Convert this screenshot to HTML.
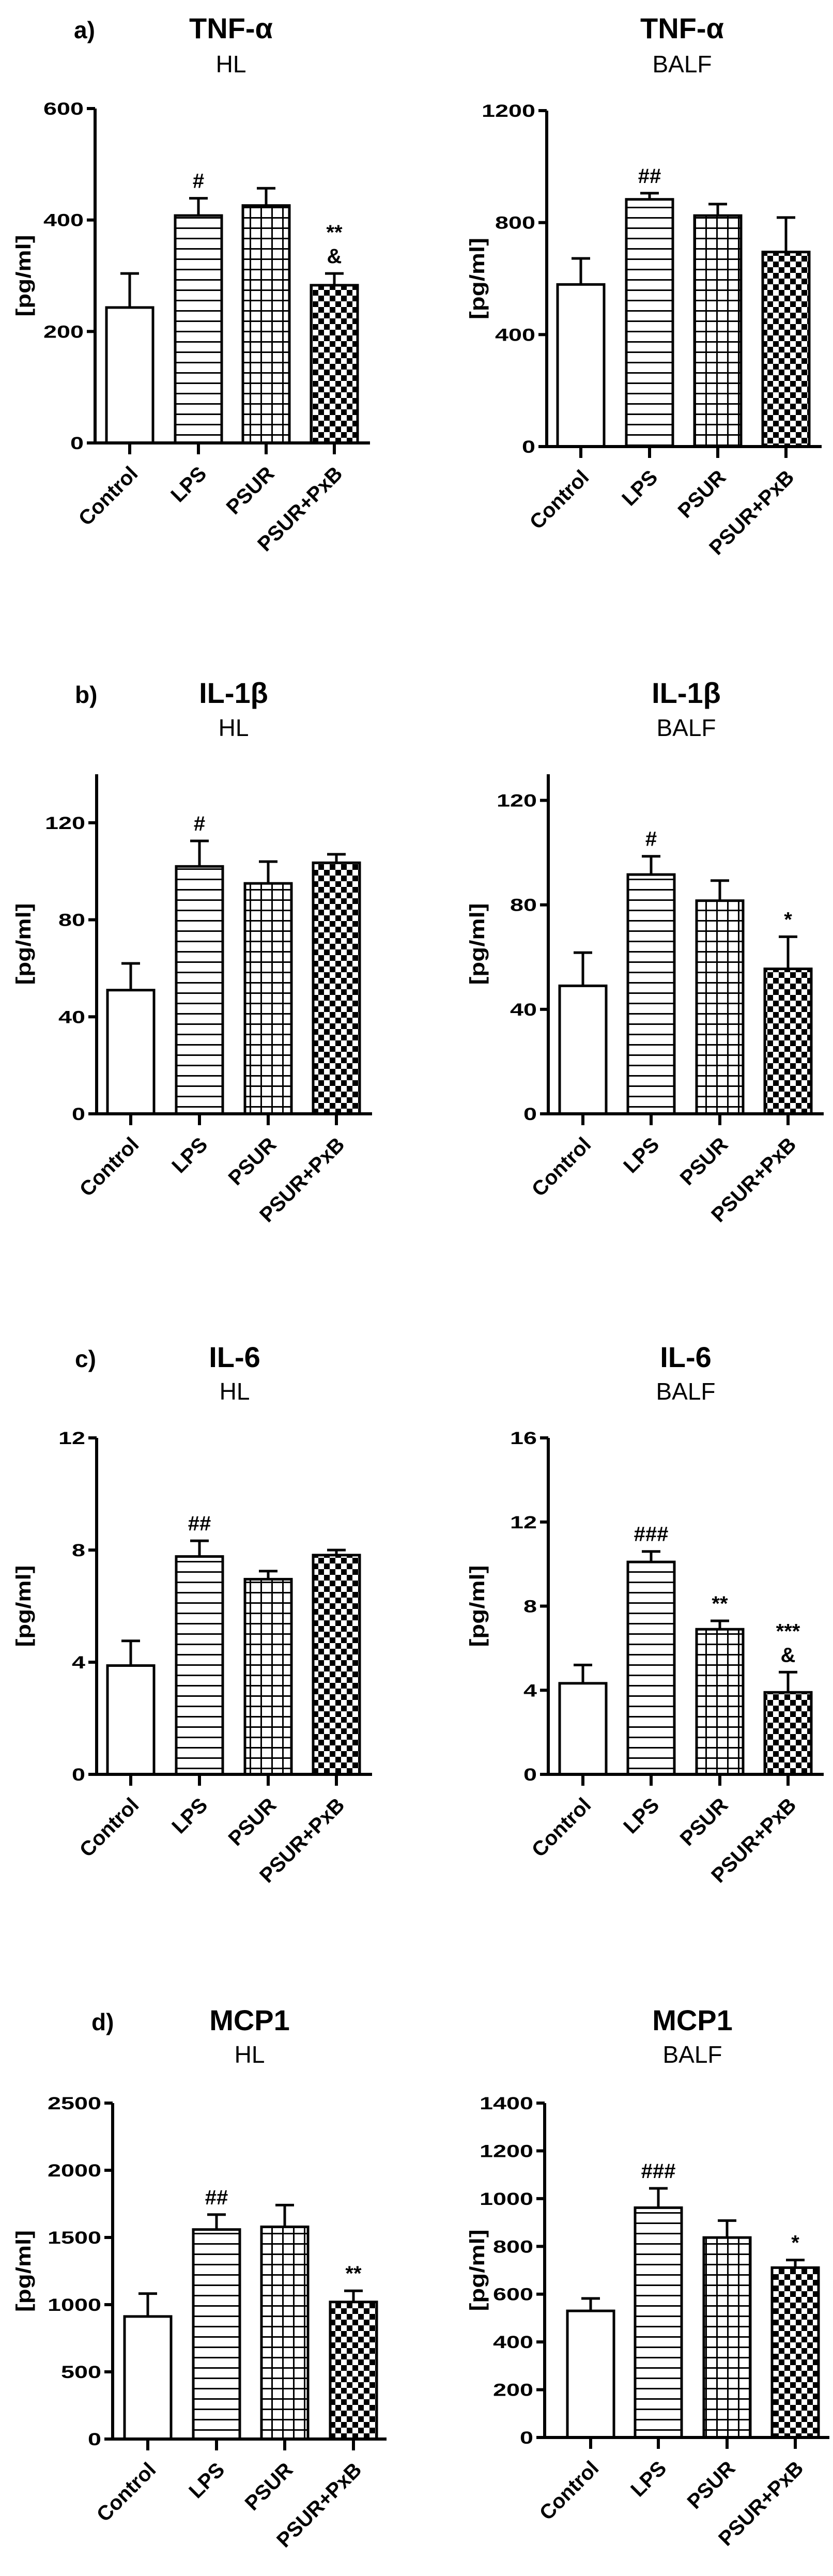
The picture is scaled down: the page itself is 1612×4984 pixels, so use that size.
<!DOCTYPE html>
<html><head><meta charset="utf-8"><style>
html,body{margin:0;padding:0;background:#fff;}
svg{display:block;font-family:"Liberation Sans",Arial,sans-serif;}
</style></head><body>
<svg id="fig" xmlns="http://www.w3.org/2000/svg" width="1612" height="4984" viewBox="0 0 1612 4984">
<defs>
<pattern id="pat-h" patternUnits="userSpaceOnUse" width="10" height="20"><rect x="0" y="0" width="10" height="3" fill="#000"/></pattern>
<pattern id="pat-grid" patternUnits="userSpaceOnUse" width="21" height="20"><rect x="0" y="0" width="21" height="3" fill="#000"/><rect x="0" y="0" width="3" height="20" fill="#000"/></pattern>
<pattern id="pat-check" patternUnits="userSpaceOnUse" width="22" height="22"><rect x="0" y="0" width="11" height="11" fill="#000"/><rect x="11" y="11" width="11" height="11" fill="#000"/></pattern>
</defs>
<rect width="1612" height="4984" fill="#fff"/>
</svg>
<script>
const categories = ["Control","LPS","PSUR","PSUR+PxB"];

const tnfHLValues = [243,408,426,283];
const tnfHLSem = [61,31,31,21];
const tnfHLTicks = [0,200,400,600];
const tnfHLMarks = [[],["#"],[],["&","**"]];

const tnfBALFValues = [579,883,825,695];
const tnfBALFSem = [93,22,41,123];
const tnfBALFTicks = [0,400,800,1200];
const tnfBALFMarks = [[],["##"],[],[]];

const il1HLValues = [51,102,95,103.5];
const il1HLSem = [11,10.5,9,3.5];
const il1HLTicks = [0,40,80,120];
const il1HLMarks = [[],["#"],[],[]];

const il1BALFValues = [49,91.6,81.6,55.5];
const il1BALFSem = [12.7,7,7.7,12.3];
const il1BALFTicks = [0,40,80,120];
const il1BALFMarks = [[],["#"],[],["*"]];

const il6HLValues = [3.88,7.77,6.96,7.82];
const il6HLSem = [0.88,0.56,0.29,0.18];
const il6HLTicks = [0,4,8,12];
const il6HLMarks = [[],["##"],[],[]];

const il6BALFValues = [4.33,10.1,6.9,3.9];
const il6BALFSem = [0.87,0.5,0.4,0.96];
const il6BALFTicks = [0,4,8,12,16];
const il6BALFMarks = [[],["###"],["**"],["&","***"]];

const mcpHLValues = [912,1559,1579,1020];
const mcpHLSem = [170,111,162,83];
const mcpHLTicks = [0,500,1000,1500,2000,2500];
const mcpHLMarks = [[],["##"],[],["**"]];

const mcpBALFValues = [530,962,837,711];
const mcpBALFSem = [52,81,71,32];
const mcpBALFTicks = [0,200,400,600,800,1000,1200,1400];
const mcpBALFMarks = [[],["###"],[],["*"]];

const NS = "http://www.w3.org/2000/svg";
const svg = document.getElementById("fig");
const fills = ["#fff","url(#pat-h)","url(#pat-grid)","url(#pat-check)"];

function mk(tag, attrs, parent){
  const e = document.createElementNS(NS, tag);
  for (const k in attrs) e.setAttribute(k, attrs[k]);
  (parent||svg).appendChild(e);
  return e;
}

const panels = [
 {id:"tnf-hl", name:"TNF-\u03b1", sub:"HL", letter:"a)", values:tnfHLValues, sem:tnfHLSem, ticks:tnfHLTicks, marks:tnfHLMarks, max:600, ax:184, end:716, zero:857, top:210, centers:[251,384,515,647], tx:447, ty:74, sy:140, lx:143, ylx:46},
 {id:"tnf-balf", name:"TNF-\u03b1", sub:"BALF", letter:"", values:tnfBALFValues, sem:tnfBALFSem, ticks:tnfBALFTicks, marks:tnfBALFMarks, max:1200, ax:1058, end:1590, zero:864, top:214, centers:[1124,1257,1389,1521], tx:1320, ty:74, sy:140, ylx:924},
 {id:"il1-hl", name:"IL-1\u03b2", sub:"HL", letter:"b)", values:il1HLValues, sem:il1HLSem, ticks:il1HLTicks, marks:il1HLMarks, max:140, ax:187, end:720, zero:2155, top:1498, centers:[253,386,519,651], tx:452, ty:1360, sy:1424, lx:145, ylx:46},
 {id:"il1-balf", name:"IL-1\u03b2", sub:"BALF", letter:"", values:il1BALFValues, sem:il1BALFSem, ticks:il1BALFTicks, marks:il1BALFMarks, max:130, ax:1061, end:1594, zero:2155, top:1498, centers:[1128,1260,1393,1525], tx:1328, ty:1360, sy:1424, ylx:924},
 {id:"il6-hl", name:"IL-6", sub:"HL", letter:"c)", values:il6HLValues, sem:il6HLSem, ticks:il6HLTicks, marks:il6HLMarks, max:12, ax:187, end:720, zero:3433, top:2782, centers:[253,386,519,651], tx:454, ty:2645, sy:2708, lx:145, ylx:46},
 {id:"il6-balf", name:"IL-6", sub:"BALF", letter:"", values:il6BALFValues, sem:il6BALFSem, ticks:il6BALFTicks, marks:il6BALFMarks, max:16, ax:1061, end:1594, zero:3433, top:2782, centers:[1128,1260,1393,1525], tx:1327, ty:2645, sy:2708, ylx:924},
 {id:"mcp1-hl", name:"MCP1", sub:"HL", letter:"d)", values:mcpHLValues, sem:mcpHLSem, ticks:mcpHLTicks, marks:mcpHLMarks, max:2500, ax:218, end:748, zero:4719, top:4069, centers:[286,419,551,684], tx:483, ty:3928, sy:3991, lx:177, ylx:46},
 {id:"mcp1-balf", name:"MCP1", sub:"BALF", letter:"", values:mcpBALFValues, sem:mcpBALFSem, ticks:mcpBALFTicks, marks:mcpBALFMarks, max:1400, ax:1054, end:1605, zero:4716, top:4069, centers:[1143,1274,1407,1539], tx:1340, ty:3928, sy:3991, ylx:924}
];

panels.forEach(p => {
  const g = mk("g", {});
  
  
  const y = v => p.zero - (v / p.max) * (p.zero - p.top);
  const axisTop = y(p.max);

  if (p.letter) {
    const l = mk("text", {x:p.lx, y:p.ty, "font-size":46, "font-weight":"bold"}, g);
    l.textContent = p.letter;
    
    
  }
  const t = mk("text", {x:p.tx, y:p.ty, "font-size":56, "font-weight":"bold", "text-anchor":"middle"}, g);
  t.textContent = p.name;
  
  
  const s = mk("text", {x:p.tx, y:p.sy, "font-size":46, "text-anchor":"middle"}, g);
  s.textContent = p.sub;
  
  

  const cy = (p.zero + axisTop) / 2;
  const yl = mk("text", {x:p.ylx, y:cy, "font-size":40, "font-weight":"bold", "text-anchor":"middle", "dominant-baseline":"central", transform:`rotate(-90 ${p.ylx} ${cy})`, textLength:158, lengthAdjust:"spacingAndGlyphs"}, g);
  yl.textContent = "[pg/ml]";
  
  

  const bw = 90;
  p.values.forEach((v, i) => {
    const cx = p.centers[i];
    const yt = y(v);
    const r = mk("rect", {x:cx-bw/2, y:yt, width:bw, height:p.zero-yt, fill:fills[i], stroke:"#000", "stroke-width":5}, g);
    
    
    const ye = y(v + p.sem[i]);
    const e1 = mk("line", {x1:cx, x2:cx, y1:yt, y2:ye, stroke:"#000", "stroke-width":5}, g);
    
    
    const e2 = mk("line", {x1:cx-18, x2:cx+18, y1:ye, y2:ye, stroke:"#000", "stroke-width":5}, g);
    
    
    p.marks[i].forEach((m, k) => {
      const a = mk("text", {x:cx, y:ye - 20 - k*46, "font-size":40, "font-weight":"bold", "text-anchor":"middle"}, g);
      a.textContent = m;
      
      
    });
    const xt = mk("line", {x1:cx, x2:cx, y1:p.zero, y2:p.zero+22, stroke:"#000", "stroke-width":6}, g);
    
    
    const ax = cx + 18, ay = p.zero + 62;
    const lab = mk("text", {x:ax, y:ay, "font-size":40, "font-weight":"bold", "text-anchor":"end", transform:`rotate(-45 ${ax} ${ay})`}, g);
    lab.textContent = categories[i];
    
    
  });

  const ya = mk("line", {x1:p.ax, x2:p.ax, y1:axisTop, y2:p.zero+3, stroke:"#000", "stroke-width":6}, g);
  
  
  const xa = mk("line", {x1:p.ax-16, x2:p.end, y1:p.zero, y2:p.zero, stroke:"#000", "stroke-width":6}, g);
  
  
  p.ticks.forEach(tv => {
    const ty = y(tv);
    const tk = mk("line", {x1:p.ax-16, x2:p.ax, y1:ty, y2:ty, stroke:"#000", "stroke-width":6}, g);
    
    
    const str = String(tv);
    const tl = mk("text", {x:p.ax-22, y:ty+12, "font-size":34, "font-weight":"bold", "text-anchor":"end", textLength:26*str.length, lengthAdjust:"spacingAndGlyphs"}, g);
    tl.textContent = str;
    
    
  });
});
</script>
</body></html>
